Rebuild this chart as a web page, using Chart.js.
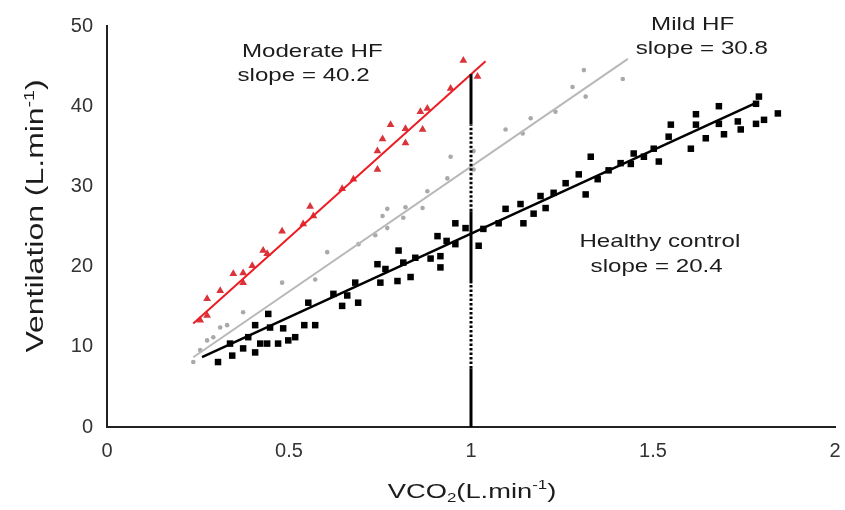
<!DOCTYPE html>
<html>
<head>
<meta charset="utf-8">
<script src="https://cdn.jsdelivr.net/npm/chart.js@4.4.1/dist/chart.umd.min.js"></script>
<style>
html,body{margin:0;padding:0;background:#fff;}
#wrap{width:845px;height:510px;position:relative;}
</style>
</head>
<body>
<div id="wrap"><canvas id="cv"></canvas></div>
<script>
// ═══ DATA ═══
var xTicks=[0,0.5,1,1.5,2];
var yTicks=[0,10,20,30,40,50];

// Moderate HF (red triangles)
var modX=[0.256,0.275,0.275,0.311,0.347,0.374,0.374,0.399,0.429,0.440,0.481,0.539,0.567,0.558,0.646,0.677,0.743,0.743,0.757,0.820,0.779,0.820,0.867,0.861,0.880,0.944,1.018,0.979];
var modY=[13.3,13.9,16.0,17.0,19.1,18.0,19.2,20.1,22.0,21.6,24.4,25.3,26.3,27.5,29.7,30.9,32.1,34.4,35.9,35.4,37.7,37.2,37.1,39.3,39.7,42.2,43.7,45.7];

// Mild HF (grey dots)
var mildX=[0.237,0.256,0.275,0.292,0.311,0.330,0.374,0.481,0.572,0.605,0.691,0.737,0.770,0.757,0.770,0.814,0.820,0.867,0.880,0.935,0.944,1.007,1.007,1.095,1.142,1.164,1.232,1.279,1.315,1.310,1.417];
var mildY=[8.1,9.6,10.8,11.2,12.4,12.7,14.3,18.0,18.4,21.8,22.8,23.9,24.8,26.3,27.2,26.1,27.4,27.3,29.4,31.0,33.7,32.1,34.4,37.1,36.6,38.5,39.3,42.4,41.2,44.5,43.4];

// Healthy control (black squares)
var hcX=[0.305,0.344,0.374,0.407,0.338,0.388,0.407,0.443,0.448,0.421,0.440,0.470,0.484,0.498,0.517,0.542,0.572,0.553,0.622,0.646,0.660,0.682,0.690,0.743,0.751,0.765,0.801,0.798,0.814,0.834,0.847,0.889,0.908,0.916,0.916,0.933,0.957,0.957,0.985,1.021,1.034,1.076,1.095,1.136,1.144,1.172,1.191,1.205,1.227,1.260,1.296,1.315,1.329,1.348,1.378,1.411,1.439,1.447,1.475,1.516,1.502,1.543,1.549,1.604,1.618,1.618,1.645,1.681,1.681,1.695,1.733,1.741,1.783,1.805,1.783,1.791,1.843];
var hcY=[8.1,8.9,9.8,9.3,10.4,11.2,12.7,14.1,12.4,10.4,10.4,10.4,12.3,10.8,11.2,12.7,12.7,15.5,16.6,15.1,16.4,18.0,15.5,20.3,18.0,19.7,22.0,18.2,20.5,18.7,21.1,21.0,23.8,21.3,19.9,23.2,25.4,22.8,24.8,22.6,24.7,25.4,27.2,27.8,25.4,26.6,28.8,27.3,29.2,30.4,31.5,29.0,33.7,30.9,32.0,32.9,32.8,34.1,33.7,33.1,34.7,36.2,37.7,34.7,37.7,39.0,36.0,40.0,37.8,36.5,38.1,37.1,37.8,38.3,40.3,41.2,39.1];

// regression lines (ends)
var modLineX=[0.237,1.04], modLineY=[12.9,45.6];
var mildLineX=[0.237,1.431], mildLineY=[8.7,45.9];
var hcLineX=[0.261,1.777], hcLineY=[8.7,40.3];

// marker at VCO2 = 1 (alternating solid / dotted pieces)
var markX=[1,1,1,1,1,1];
var markY=[0,7.3,17.9,26.9,37.7,44.0];

function pts(xs,ys){return xs.map(function(x,i){return{x:x,y:ys[i]};});}

// ═══ TEXT (drawn on canvas with sub/superscripts) ═══
function drawRich(ctx,parts,cx,cy,fs,sx){
  var fam='"Liberation Sans",Arial,sans-serif';
  var w=0;
  parts.forEach(function(p){ctx.font=(p.s?Math.round(fs*0.62):fs)+'px '+fam;p.w=ctx.measureText(p.t).width;w+=p.w;});
  ctx.save();
  ctx.translate(cx,cy);ctx.scale(sx,1);
  ctx.textBaseline='alphabetic';ctx.textAlign='left';
  var x=-w/2,base=fs*0.36;
  parts.forEach(function(p){
    ctx.font=(p.s?Math.round(fs*0.62):fs)+'px '+fam;
    var dy=p.s===1?-fs*0.42:(p.s===-1?fs*0.22:0);
    ctx.fillText(p.t,x,base+dy);x+=p.w;
  });
  ctx.restore();
}

var labelPlugin={id:'labels',afterDraw:function(chart){
  var ctx=chart.ctx,xs=chart.scales.x,ys=chart.scales.y;
  ctx.fillStyle='#1c1c1c';
  // axis titles
  ctx.save();ctx.translate(35,216);ctx.rotate(-Math.PI/2);
  drawRich(ctx,[{t:'Ventilation (L.min'},{t:'-1',s:1},{t:')'}],0,0,23,1.39);
  ctx.restore();
  drawRich(ctx,[{t:'VCO'},{t:'2',s:-1},{t:'(L.min'},{t:'-1',s:1},{t:')'}],472,490,21,1.3);
  // annotations
  var notes=[['Moderate HF',0.564,47.0],['slope = 40.2',0.540,44.0],['Mild HF',1.609,50.4],['slope = 30.8',1.634,47.3],['Healthy control',1.519,23.3],['slope = 20.4',1.510,20.2]];
  notes.forEach(function(n){drawRich(ctx,[{t:n[0]}],xs.getPixelForValue(n[1]),ys.getPixelForValue(n[2]),19,1.27);});
}};

var tickFont={family:'"Liberation Sans",Arial,sans-serif',size:20};
new Chart(document.getElementById('cv'),{
  data:{datasets:[
    {type:'line',data:pts(markX,markY),borderColor:'#000',borderWidth:3,pointRadius:0,order:0,
      segment:{borderDash:function(c){return c.p0DataIndex%2===1?[2.5,2]:undefined;}}},
    {type:'line',data:pts(modLineX,modLineY),borderColor:'#ec1c24',borderWidth:2,pointRadius:0,order:1},
    {type:'line',data:pts(mildLineX,mildLineY),borderColor:'#b8b8b8',borderWidth:2,pointRadius:0,order:1},
    {type:'line',data:pts(hcLineX,hcLineY),borderColor:'#000',borderWidth:2.5,pointRadius:0,order:1},
    {type:'scatter',data:pts(modX,modY),pointStyle:'triangle',radius:4.5,backgroundColor:'#d9343a',borderColor:'#d9343a',borderWidth:0,order:2},
    {type:'scatter',data:pts(mildX,mildY),pointStyle:'circle',radius:2.3,backgroundColor:'#a9a9a9',borderColor:'#a9a9a9',borderWidth:0,order:2},
    {type:'scatter',data:pts(hcX,hcY),pointStyle:'rect',radius:4.6,backgroundColor:'#000',borderColor:'#000',borderWidth:0,order:2}
  ]},
  options:{responsive:true,maintainAspectRatio:false,animation:false,
    layout:{padding:{left:0,right:10,top:24,bottom:0}},
    plugins:{legend:{display:false},tooltip:{enabled:false}},
    scales:{
      x:{type:'linear',min:0,max:2,
        afterBuildTicks:function(s){s.ticks=xTicks.map(function(v){return{value:v};});},
        afterFit:function(s){s.height=83;s.paddingRight=0;s.paddingLeft=0;},
        grid:{display:false,drawTicks:false},border:{display:true,color:'#222',width:2},
        ticks:{color:'#333',font:tickFont,padding:12,callback:function(v){return String(v);}}},
      y:{type:'linear',min:0,max:50,
        afterBuildTicks:function(s){s.ticks=yTicks.map(function(v){return{value:v};});},
        afterFit:function(s){s.width=107;},
        grid:{display:false,drawTicks:false},border:{display:true,color:'#222',width:2},
        ticks:{color:'#333',font:tickFont,padding:14,callback:function(v){return String(v);}}}
    }
  },
  plugins:[labelPlugin]
});
</script>
</body>
</html>
